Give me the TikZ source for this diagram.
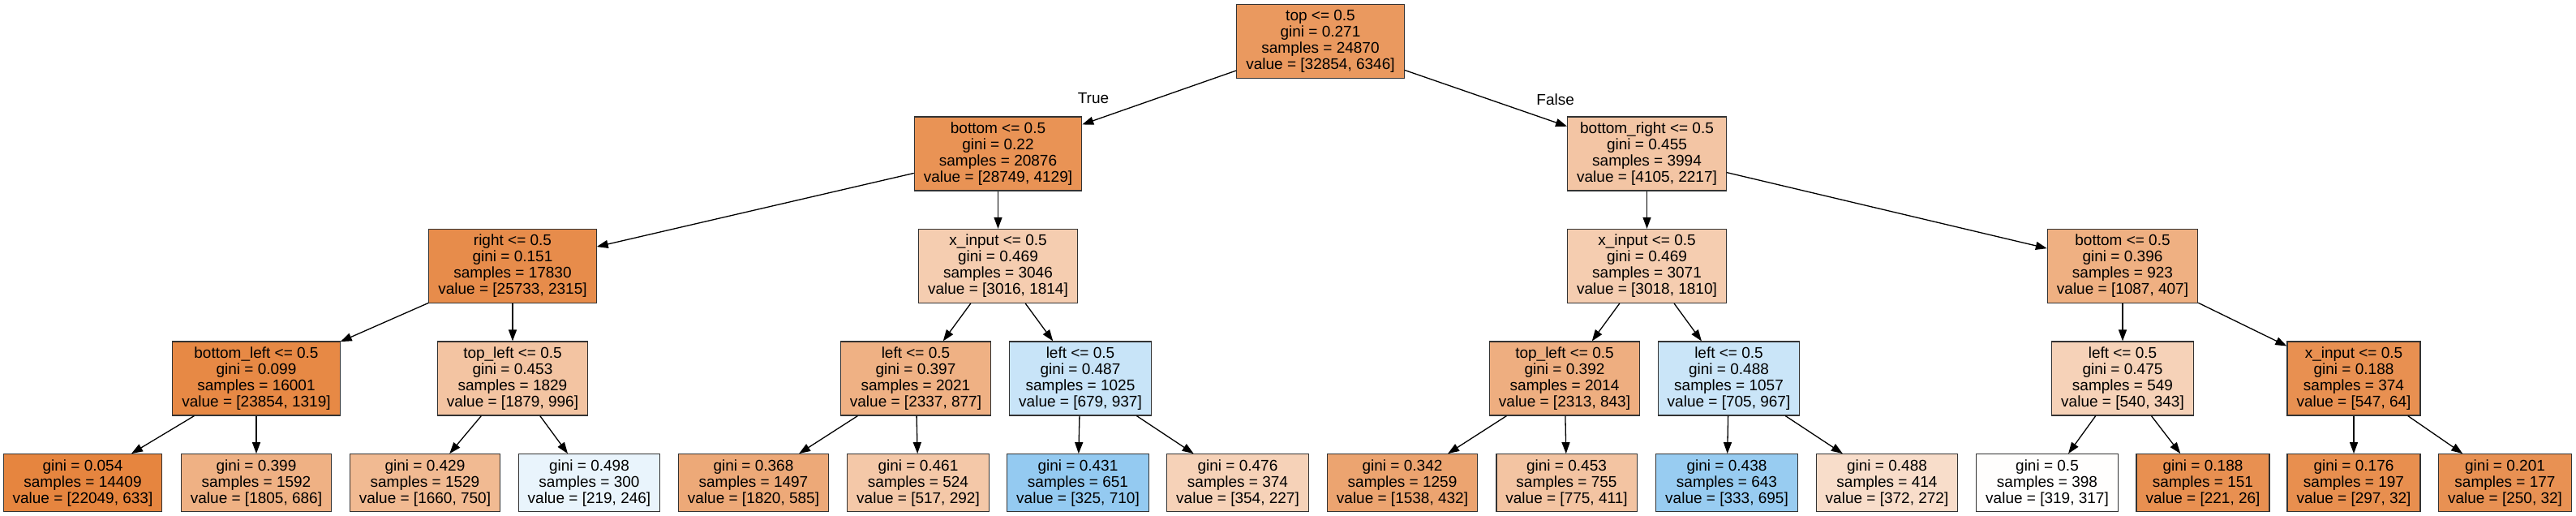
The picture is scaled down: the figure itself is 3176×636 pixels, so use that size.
\documentclass[tikz,border=0pt]{standalone}
\usepackage{fontspec}
\setmainfont{Liberation Sans}
\usetikzlibrary{arrows.meta}
\definecolor{clsA}{RGB}{229,129,57}
\definecolor{clsB}{RGB}{57,157,229}

\begin{document}
\begin{tikzpicture}[x=1pt,y=1pt,
    split/.style={draw=black!80, line width=1.2pt, align=center, inner xsep=11.5pt,
        inner ysep=0pt, minimum height=91pt, font=\fontsize{19}{20}\selectfont},
    leaf/.style={split, minimum height=71pt},
    edge/.style={line width=1.3pt, -{Triangle[length=14pt,width=10pt]}}]
            \useasboundingbox (0,0) rectangle (3176,-636);
            % root and first level
            \node [split, fill=clsA!81!white] (n0) at (1628,-50.7) {top <= 0.5\\gini = 0.271\\samples = 24870\\value = [32854, 6346]};
            \node [split, fill=clsA!86!white] (n1) at (1230.5,-189.5) {bottom <= 0.5\\gini = 0.22\\samples = 20876\\value = [28749, 4129]};
            \node [split, fill=clsA!46!white] (n2) at (2030.5,-189.5) {bottom\_right <= 0.5\\gini = 0.455\\samples = 3994\\value = [4105, 2217]};
            % second level
            \node [split, fill=clsA!91!white] (n3) at (632,-328) {right <= 0.5\\gini = 0.151\\samples = 17830\\value = [25733, 2315]};
            \node [split, fill=clsA!40!white] (n4) at (1230.5,-328) {x\_input <= 0.5\\gini = 0.469\\samples = 3046\\value = [3016, 1814]};
            \node [split, fill=clsA!40!white] (n5) at (2030.5,-328) {x\_input <= 0.5\\gini = 0.469\\samples = 3071\\value = [3018, 1810]};
            \node [split, fill=clsA!63!white] (n6) at (2617,-328) {bottom <= 0.5\\gini = 0.396\\samples = 923\\value = [1087, 407]};
            % third level
            \node [split, fill=clsA!94!white] (n7) at (316,-466.5) {bottom\_left <= 0.5\\gini = 0.099\\samples = 16001\\value = [23854, 1319]};
            \node [split, fill=clsA!47!white] (n8) at (632,-466.5) {top\_left <= 0.5\\gini = 0.453\\samples = 1829\\value = [1879, 996]};
            \node [split, fill=clsA!62!white] (n9) at (1129,-466.5) {left <= 0.5\\gini = 0.397\\samples = 2021\\value = [2337, 877]};
            \node [split, fill=clsB!28!white] (n10) at (1332,-466.5) {left <= 0.5\\gini = 0.487\\samples = 1025\\value = [679, 937]};
            \node [split, fill=clsA!64!white] (n11) at (1929,-466.5) {top\_left <= 0.5\\gini = 0.392\\samples = 2014\\value = [2313, 843]};
            \node [split, fill=clsB!27!white] (n12) at (2131.5,-466.5) {left <= 0.5\\gini = 0.488\\samples = 1057\\value = [705, 967]};
            \node [split, fill=clsA!36!white] (n13) at (2617,-466.5) {left <= 0.5\\gini = 0.475\\samples = 549\\value = [540, 343]};
            \node [split, fill=clsA!88!white] (n14) at (2902,-466.5) {x\_input <= 0.5\\gini = 0.188\\samples = 374\\value = [547, 64]};
            % leaves
            \node [leaf, fill=clsA!97!white] (l1) at (102,-595.2) {gini = 0.054\\samples = 14409\\value = [22049, 633]};
            \node [leaf, fill=clsA!62!white] (l2) at (316,-595.2) {gini = 0.399\\samples = 1592\\value = [1805, 686]};
            \node [leaf, fill=clsA!55!white] (l3) at (524,-595.2) {gini = 0.429\\samples = 1529\\value = [1660, 750]};
            \node [leaf, fill=clsB!11!white] (l4) at (726.5,-595.2) {gini = 0.498\\samples = 300\\value = [219, 246]};
            \node [leaf, fill=clsA!68!white] (l5) at (929,-595.2) {gini = 0.368\\samples = 1497\\value = [1820, 585]};
            \node [leaf, fill=clsA!44!white] (l6) at (1132,-595.2) {gini = 0.461\\samples = 524\\value = [517, 292]};
            \node [leaf, fill=clsB!54!white] (l7) at (1329,-595.2) {gini = 0.431\\samples = 651\\value = [325, 710]};
            \node [leaf, fill=clsA!36!white] (l8) at (1526,-595.2) {gini = 0.476\\samples = 374\\value = [354, 227]};
            \node [leaf, fill=clsA!72!white] (l9) at (1729,-595.2) {gini = 0.342\\samples = 1259\\value = [1538, 432]};
            \node [leaf, fill=clsA!47!white] (l10) at (1931.5,-595.2) {gini = 0.453\\samples = 755\\value = [775, 411]};
            \node [leaf, fill=clsB!52!white] (l11) at (2129,-595.2) {gini = 0.438\\samples = 643\\value = [333, 695]};
            \node [leaf, fill=clsA!27!white] (l12) at (2326.5,-595.2) {gini = 0.488\\samples = 414\\value = [372, 272]};
            \node [leaf, fill=clsA!1!white] (l13) at (2524,-595.2) {gini = 0.5\\samples = 398\\value = [319, 317]};
            \node [leaf, fill=clsA!88!white] (l14) at (2716,-595.2) {gini = 0.188\\samples = 151\\value = [221, 26]};
            \node [leaf, fill=clsA!89!white] (l15) at (2902,-595.2) {gini = 0.176\\samples = 197\\value = [297, 32]};
            \node [leaf, fill=clsA!87!white] (l16) at (3088.5,-595.2) {gini = 0.201\\samples = 177\\value = [250, 32]};
            % branch labels
            \node [font=\fontsize{19}{20}\selectfont] (yes) at (1348,-121) {True};
            \node [font=\fontsize{19}{20}\selectfont] (no) at (1917.6,-123) {False};
            % edges
            \draw [edge] (n0) -- (n1);
            \draw [edge] (n0) -- (n2);
            \draw [edge] (n1) -- (n3);
            \draw [edge] (n1) -- (n4);
            \draw [edge] (n2) -- (n5);
            \draw [edge] (n2) -- (n6);
            \draw [edge] (n3) -- (n7);
            \draw [edge] (n3) -- (n8);
            \draw [edge] (n4) -- (n9);
            \draw [edge] (n4) -- (n10);
            \draw [edge] (n5) -- (n11);
            \draw [edge] (n5) -- (n12);
            \draw [edge] (n6) -- (n13);
            \draw [edge] (n6) -- (n14);
            \draw [edge] (n7) -- (l1);
            \draw [edge] (n7) -- (l2);
            \draw [edge] (n8) -- (l3);
            \draw [edge] (n8) -- (l4);
            \draw [edge] (n9) -- (l5);
            \draw [edge] (n9) -- (l6);
            \draw [edge] (n10) -- (l7);
            \draw [edge] (n10) -- (l8);
            \draw [edge] (n11) -- (l9);
            \draw [edge] (n11) -- (l10);
            \draw [edge] (n12) -- (l11);
            \draw [edge] (n12) -- (l12);
            \draw [edge] (n13) -- (l13);
            \draw [edge] (n13) -- (l14);
            \draw [edge] (n14) -- (l15);
            \draw [edge] (n14) -- (l16);
        \end{tikzpicture}
\end{document}
